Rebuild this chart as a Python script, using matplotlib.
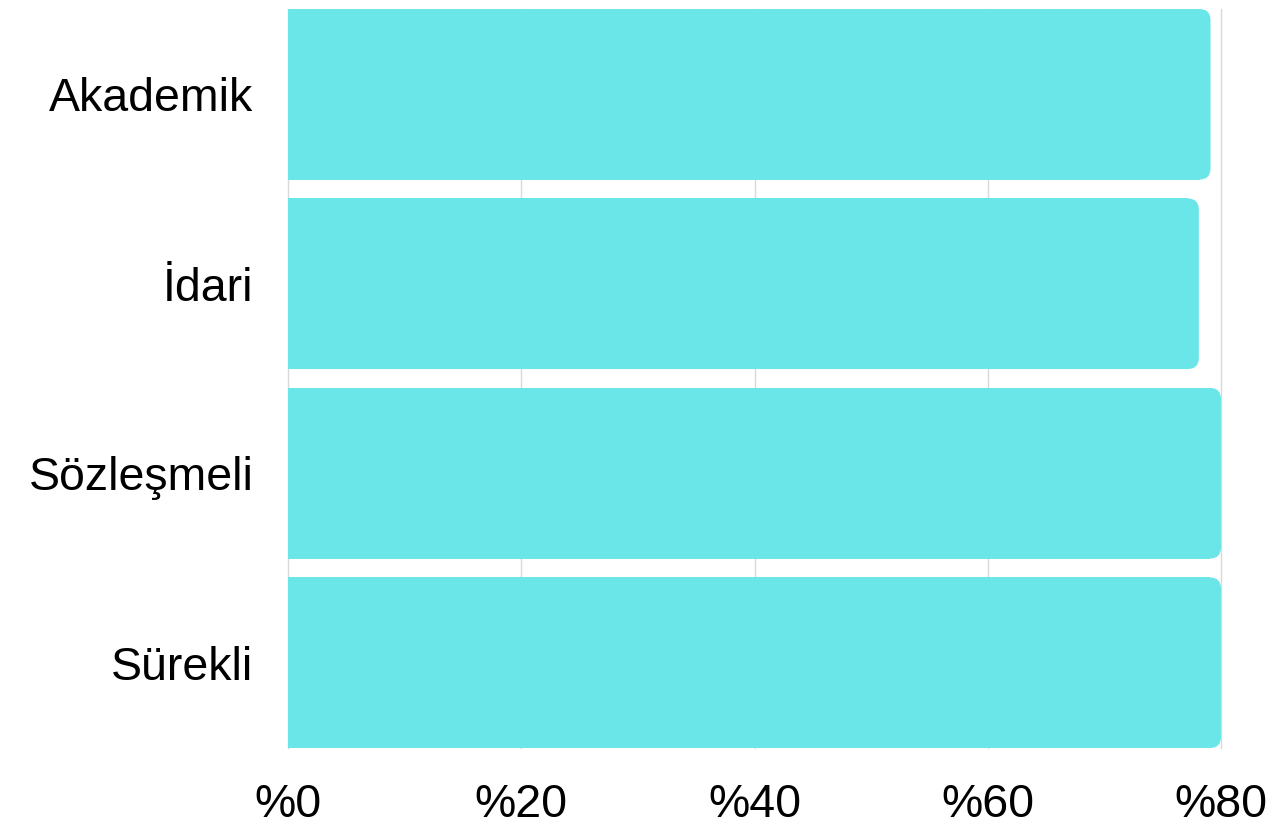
import matplotlib.pyplot as plt
from matplotlib.patches import FancyBboxPatch, Rectangle

# data
categories = ["Akademik", "İdari", "Sözleşmeli", "Sürekli"]
values = [79.1, 78.1, 80.0, 80.0]
xticks = [0, 20, 40, 60, 80]
xtick_labels = ["%0", "%20", "%40", "%60", "%80"]

bar_color = "#6ae6e9"
grid_color = "#d9d9d9"

plt.rcParams["font.family"] = ["Liberation Sans", "DejaVu Sans"]

fig = plt.figure(figsize=(12.72, 8.24), dpi=100)
ax = fig.add_axes([288 / 1272, 1 - 748 / 824, (1221 - 288) / 1272, (748 - 9) / 824])

ypos = list(range(len(categories)))
bars = ax.barh(ypos, values, height=0.9, color=bar_color, alpha=0)

ax.set_xlim(0, 80)
ax.set_ylim(3.45, -0.45)

# rounded right corners: work out data units per pixel
fig.canvas.draw()
bbox = ax.get_window_extent()
xpp = 80 / bbox.width
ypp = 3.9 / bbox.height
radius_px = 11
rx = radius_px * xpp

for b in bars:
    x, y, w, h = b.get_x(), b.get_y(), b.get_width(), b.get_height()
    ax.add_patch(FancyBboxPatch((x, y), w, h,
                                boxstyle=f"round,pad=0,rounding_size={rx}",
                                mutation_aspect=ypp / xpp,
                                facecolor=bar_color, edgecolor="none", zorder=2))
    ax.add_patch(Rectangle((x, y), w - rx, h, facecolor=bar_color,
                           edgecolor="none", zorder=2))

ax.set_yticks(ypos)
ax.set_yticklabels(categories, fontsize=33.5)
ax.set_xticks(xticks)
ax.set_xticklabels(xtick_labels, fontsize=33.5)
ax.tick_params(axis="both", length=0)
ax.tick_params(axis="y", pad=25)
ax.tick_params(axis="x", pad=25)

ax.grid(True, axis="x", color=grid_color, linewidth=1, zorder=0)
ax.set_axisbelow(True)
for line in ax.get_xgridlines():
    line.set_clip_on(False)
for s in ax.spines.values():
    s.set_visible(False)

fig.savefig("out.png", dpi=100)
